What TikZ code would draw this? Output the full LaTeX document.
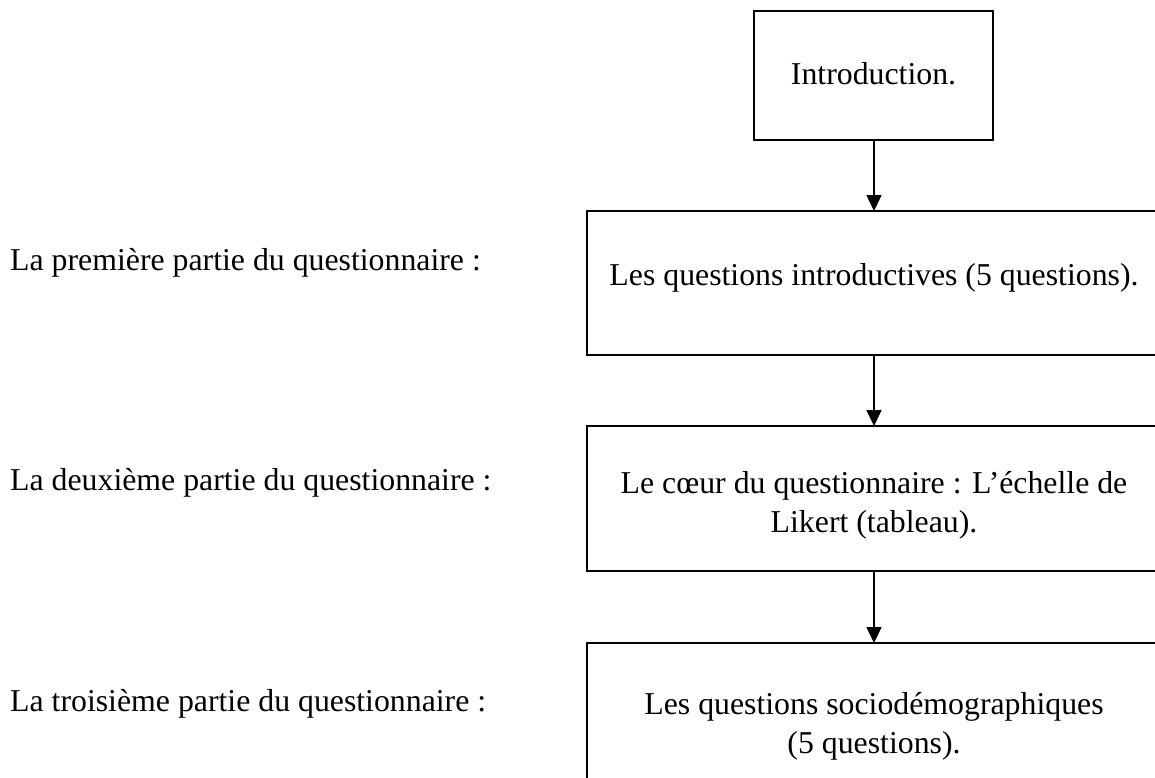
\documentclass[tikz,border=0pt]{standalone}
\usepackage{fontspec}
\setmainfont{Liberation Serif}
\usetikzlibrary{arrows.meta}
\begin{document}
\begin{tikzpicture}[x=1pt,y=-1pt,
  box/.style={draw, rectangle, line width=1.6pt, inner sep=0pt, outer sep=0pt},
  txt/.style={inner sep=0pt, anchor=base, align=center,
    font=\fontsize{31.8}{38.5}\selectfont},
  lbl/.style={inner sep=0pt, anchor=base west,
    font=\fontsize{31.8}{38.5}\selectfont},
  flow/.style={line width=1.6pt, -{Triangle[length=16pt,width=15pt]}}]
\useasboundingbox (0,0) rectangle (1155,778);

% flow boxes
\node[box, minimum width=239pt, minimum height=129pt] (intro) at (873.5,75.5) {};
\node[box, minimum width=574pt, minimum height=144pt] (p1) at (874,283) {};
\node[box, minimum width=574pt, minimum height=145pt] (p2) at (874,498.5) {};
\node[box, minimum width=574pt, minimum height=144pt] (p3) at (874,715) {};

% box texts (base anchor = baseline of the last line)
\node[txt] (tintro) at (873.5,85) {Introduction.};
\node[txt] (tp1) at (874,285) {Les questions introductives (5 questions).};
\node[txt] (tp2) at (874,532) {Le cœur du questionnaire : L’échelle de\\Likert (tableau).};
\node[txt] (tp3) at (874,753) {Les questions sociodémographiques\\(5 questions).};

% part labels on the left
\node[lbl] (l1) at (10,270) {La première partie du questionnaire :};
\node[lbl] (l2) at (10,490) {La deuxième partie du questionnaire :};
\node[lbl] (l3) at (10,711) {La troisième partie du questionnaire :};

% connectors
\draw[flow] (p1.north |- intro.south) -- (p1.north);
\draw[flow] (p1.south) -- (p2.north);
\draw[flow] (p2.south) -- (p3.north);
\end{tikzpicture}
\end{document}
